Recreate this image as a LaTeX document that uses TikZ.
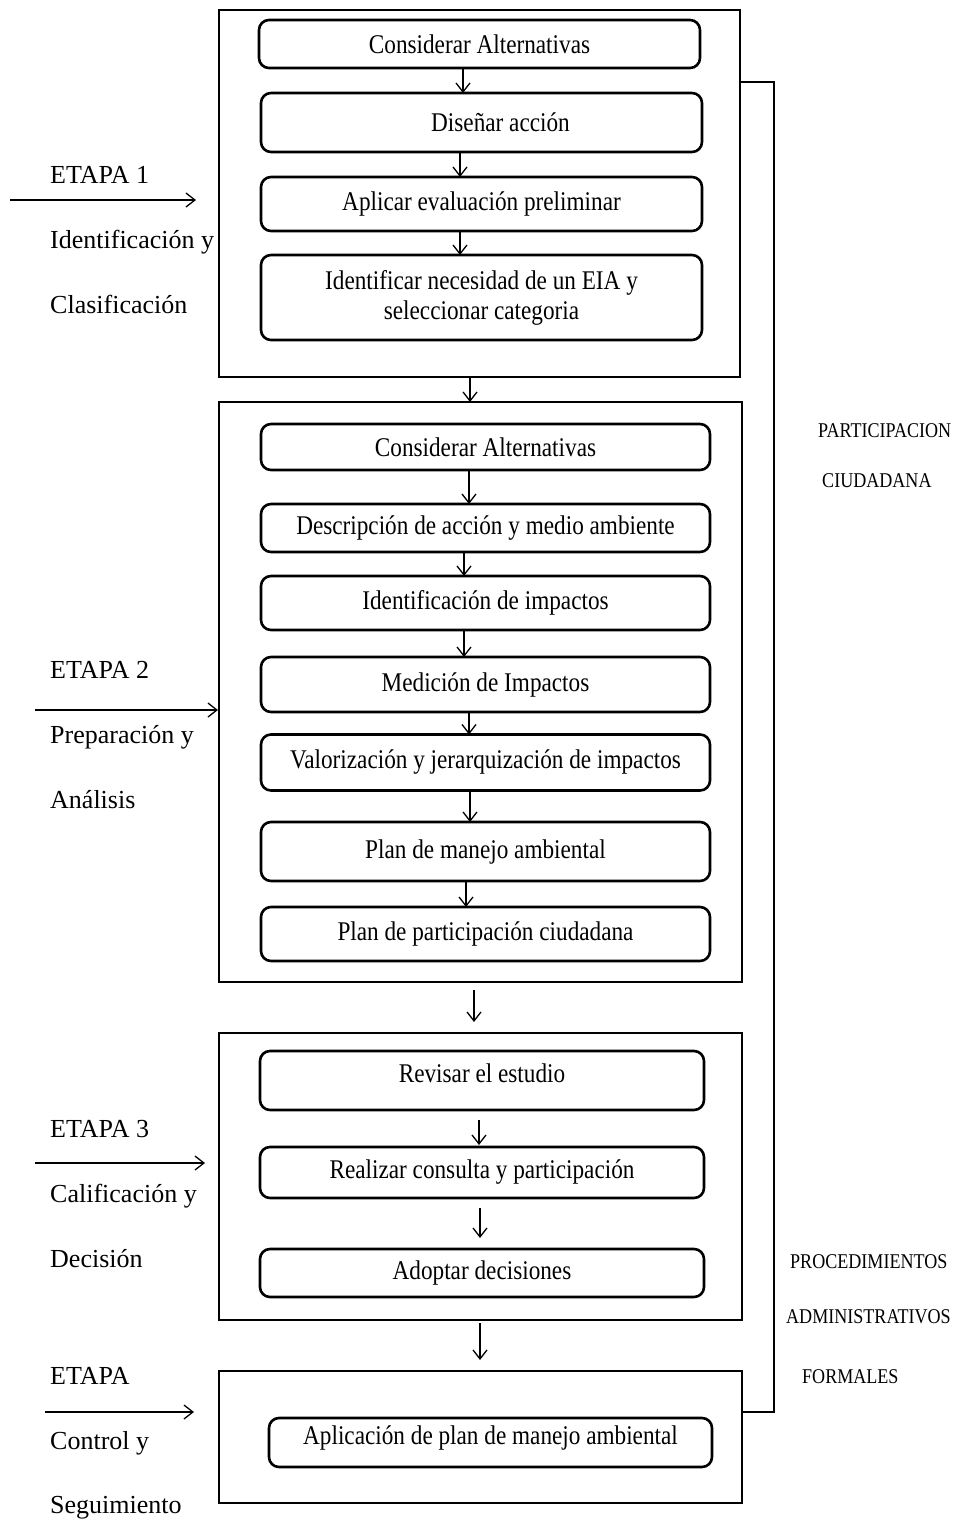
\documentclass[tikz,border=0pt]{standalone}
\usepackage{fontspec}
\setmainfont{Liberation Serif}
\newfontfamily\boxfont[FakeStretch=0.86]{Liberation Serif}
\newfontfamily\sidefont[FakeStretch=0.86]{Liberation Serif}
\usetikzlibrary{arrows.meta}
\begin{document}
\begin{tikzpicture}[x=1pt,y=-1pt,
  stagebox/.style={draw, line width=2.6pt, inner sep=0pt, outer sep=0pt},
  stepbox/.style={draw, rounded corners=10pt, line width=2.6pt, align=center,
    inner sep=0pt, outer sep=0pt, font=\boxfont\fontsize{27}{30}\selectfont},
  arr/.style={line width=1.3pt, -{Straight Barb[length=9pt,width=14pt]}},
  leftlab/.style={anchor=base west, inner sep=0pt, font=\fontsize{26}{30}\selectfont},
  rightlab/.style={anchor=base west, inner sep=0pt, font=\sidefont\fontsize{21}{24}\selectfont},
  bracket/.style={line width=1.3pt}]
\useasboundingbox (0,0) rectangle (958,1519);

% stage frames
\node[stagebox, minimum width=521pt, minimum height=367pt] (s1) at (479.5,193.5) {};
\node[stagebox, minimum width=523pt, minimum height=580pt] (s2) at (480.5,692) {};
\node[stagebox, minimum width=523pt, minimum height=287pt] (s3) at (480.5,1176.5) {};
\node[stagebox, minimum width=523pt, minimum height=132pt] (s4) at (480.5,1437) {};

% stage 1 steps
\node[stepbox, minimum width=441pt, minimum height=48pt] (c1a) at (479.5,44) {Considerar Alternativas};
\node[stepbox, minimum width=441pt, minimum height=59pt] (c1b) at (481.5,122.5) {\hspace*{38pt}Diseñar acción};
\node[stepbox, minimum width=441pt, minimum height=54pt] (c1c) at (481.5,204) {Aplicar evaluación preliminar};
\node[stepbox, minimum width=441pt, minimum height=85pt] (c1d) at (481.5,297.5) {Identificar necesidad de un EIA y\\seleccionar categoria};

% stage 2 steps
\node[stepbox, minimum width=449pt, minimum height=46pt] (c2a) at (485.5,447) {Considerar Alternativas};
\node[stepbox, minimum width=449pt, minimum height=48pt] (c2b) at (485.5,528) {Descripción de acción y medio ambiente};
\node[stepbox, minimum width=449pt, minimum height=54pt] (c2c) at (485.5,603) {Identificación de impactos};
\node[stepbox, minimum width=449pt, minimum height=55pt] (c2d) at (485.5,684.5) {Medición de Impactos};
\node[stepbox, minimum width=449pt, minimum height=56pt] (c2e) at (485.5,762.5) {Valorización y jerarquización de impactos};
\node[stepbox, minimum width=449pt, minimum height=59pt] (c2f) at (485.5,851.5) {Plan de manejo ambiental};
\node[stepbox, minimum width=449pt, minimum height=54pt] (c2g) at (485.5,934) {Plan de participación ciudadana};

% stage 3 steps
\node[stepbox, minimum width=444pt, minimum height=59pt] (c3a) at (482,1080.5) {\raisebox{14pt}{Revisar el estudio}};
\node[stepbox, minimum width=444pt, minimum height=51pt] (c3b) at (482,1172.5) {Realizar consulta y participación};
\node[stepbox, minimum width=444pt, minimum height=48pt] (c3c) at (482,1273) {Adoptar decisiones};

% stage 4 step
\node[stepbox, minimum width=443pt, minimum height=49pt] (c4a) at (490.5,1442.5) {\raisebox{14pt}{Aplicación de plan de manejo ambiental}};

% arrows inside stage 1
\draw[arr] ([xshift=-16.5pt]c1a.south) -- ([xshift=-18.5pt]c1b.north);
\draw[arr] ([xshift=-21.5pt]c1b.south) -- ([xshift=-21.5pt]c1c.north);
\draw[arr] ([xshift=-21.5pt]c1c.south) -- ([xshift=-21.5pt]c1d.north);
% stage 1 -> 2
\draw[arr] ([xshift=-9.5pt]s1.south) -- ([xshift=-10.5pt]s2.north);
% arrows inside stage 2
\draw[arr] ([xshift=-16.5pt]c2a.south) -- ([xshift=-16.5pt]c2b.north);
\draw[arr] ([xshift=-21.5pt]c2b.south) -- ([xshift=-21.5pt]c2c.north);
\draw[arr] ([xshift=-21.5pt]c2c.south) -- ([xshift=-21.5pt]c2d.north);
\draw[arr] ([xshift=-16.5pt]c2d.south) -- ([xshift=-16.5pt]c2e.north);
\draw[arr] ([xshift=-15.5pt]c2e.south) -- ([xshift=-15.5pt]c2f.north);
\draw[arr] ([xshift=-19.5pt]c2f.south) -- ([xshift=-19.5pt]c2g.north);
% stage 2 -> 3
\draw[arr, shorten <=8pt, shorten >=11pt] ([xshift=-6.5pt]s2.south) -- ([xshift=-6.5pt]s3.north);
% arrows inside stage 3
\draw[arr, shorten <=10pt, shorten >=2pt] ([xshift=-3pt]c3a.south) -- ([xshift=-3pt]c3b.north);
\draw[arr, shorten <=10pt, shorten >=11pt] ([xshift=-2pt]c3b.south) -- ([xshift=-2pt]c3c.north);
% stage 3 -> 4
\draw[arr, shorten <=3pt, shorten >=11pt] ([xshift=-0.5pt]s3.south) -- ([xshift=-0.5pt]s4.north);

% right bracket
\draw[bracket] ([yshift=-72pt]s1.north east) -- ++(34,0) |- ([yshift=25pt]s4.east);

% left labels and arrows
\coordinate (e1a) at (10,200);   \coordinate (e1b) at (196,200);
\coordinate (e2a) at (35,710);   \coordinate (e2b) at (218,710);
\coordinate (e3a) at (35,1163);  \coordinate (e3b) at (205,1163);
\coordinate (e4a) at (45,1412);  \coordinate (e4b) at (194,1412);
\draw[arr] (e1a) -- (e1b);
\draw[arr] (e2a) -- (e2b);
\draw[arr] (e3a) -- (e3b);
\draw[arr] (e4a) -- (e4b);

\node[leftlab] (l1a) at (50,183) {ETAPA 1};
\node[leftlab] (l1b) at (50,248) {Identificación y};
\node[leftlab] (l1c) at (50,313) {Clasificación};
\node[leftlab] (l2a) at (50,678) {ETAPA 2};
\node[leftlab] (l2b) at (50,743) {Preparación y};
\node[leftlab] (l2c) at (50,808) {Análisis};
\node[leftlab] (l3a) at (50,1137) {ETAPA 3};
\node[leftlab] (l3b) at (50,1202) {Calificación y};
\node[leftlab] (l3c) at (50,1267) {Decisión};
\node[leftlab] (l4a) at (50,1384) {ETAPA};
\node[leftlab] (l4b) at (50,1449) {Control y};
\node[leftlab] (l4c) at (50,1513) {Seguimiento};

% right labels
\node[rightlab] (r1) at (818,437) {PARTICIPACION};
\node[rightlab] (r2) at (822,487) {CIUDADANA};
\node[rightlab] (r3) at (790,1268) {PROCEDIMIENTOS};
\node[rightlab] (r4) at (786,1323) {ADMINISTRATIVOS};
\node[rightlab] (r5) at (802,1383) {FORMALES};
\end{tikzpicture}
\end{document}
